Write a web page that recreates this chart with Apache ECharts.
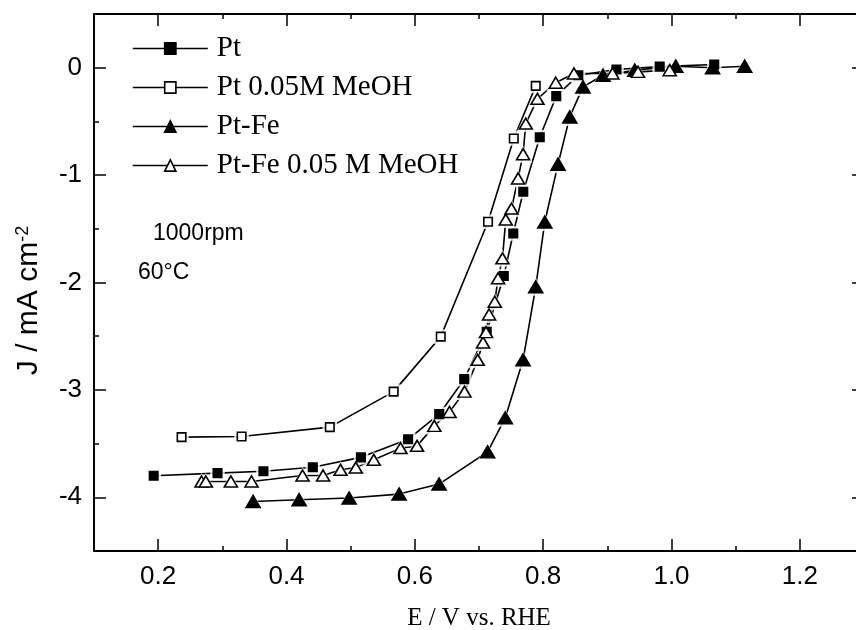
<!DOCTYPE html>
<html>
<head>
<meta charset="utf-8">
<script src="https://cdn.jsdelivr.net/npm/echarts@6/dist/echarts.min.js"></script>
<style>
  html, body { margin: 0; padding: 0; background: #fff; }
  #chart { width: 856px; height: 630px; }
</style>
</head>
<body>
<div id="chart"></div>
<script>
// Potential (V vs. RHE) and current density (mA cm^-2) for each polarisation curve
const ptE = [0.193, 0.2925, 0.364, 0.441, 0.516, 0.5895, 0.638, 0.677, 0.712, 0.7386, 0.7534, 0.769, 0.7947, 0.8204, 0.8547, 0.9142, 0.9816, 1.0666];
const ptJ = [-3.80, -3.775, -3.758, -3.72, -3.628, -3.46, -3.226, -2.90, -2.46, -1.94, -1.544, -1.155, -0.647, -0.265, -0.07, -0.017, 0.01, 0.03];

const ptMeohE = [0.2365, 0.330, 0.4675, 0.567, 0.6404, 0.7141, 0.7542, 0.7884];
const ptMeohJ = [-3.44, -3.434, -3.347, -3.016, -2.504, -1.434, -0.659, -0.169];

const ptFeE = [0.348, 0.4197, 0.4976, 0.5755, 0.6378, 0.7134, 0.741, 0.7687, 0.7884, 0.8025, 0.8232, 0.8414, 0.8621, 0.8933, 0.9427, 1.0066, 1.064, 1.114];
const ptFeJ = [-4.039, -4.023, -4.007, -3.97, -3.877, -3.577, -3.26, -2.72, -2.04, -1.437, -0.898, -0.458, -0.179, -0.07, -0.023, 0.014, 0.0, 0.014];

const ptFeMeohE = [0.2676, 0.2743, 0.3133, 0.3455, 0.425, 0.457, 0.4842, 0.508, 0.536, 0.5777, 0.6035, 0.6303, 0.654, 0.6774, 0.698, 0.7063, 0.711, 0.7157, 0.7246, 0.7297, 0.7366, 0.7417, 0.7506, 0.7609, 0.7687, 0.7729, 0.7911, 0.8196, 0.848, 0.908, 0.9478, 0.9972];
const ptFeMeohJ = [-3.853, -3.853, -3.853, -3.853, -3.797, -3.797, -3.744, -3.723, -3.651, -3.542, -3.521, -3.335, -3.205, -3.016, -2.72, -2.558, -2.462, -2.298, -2.179, -1.961, -1.775, -1.414, -1.312, -1.031, -0.805, -0.52, -0.29, -0.14, -0.054, -0.054, -0.039, -0.023];

// Axis ticks
const xMajor = [0.2, 0.4, 0.6, 0.8, 1.0, 1.2];
const xMinor = [0.1, 0.3, 0.5, 0.7, 0.9, 1.1, 1.3];
const yMajor = [0, -1, -2, -3, -4];
const yMinor = [0.5, -0.5, -1.5, -2.5, -3.5, -4.5];

const seriesNames = ['Pt', 'Pt 0.05M MeOH', 'Pt-Fe', 'Pt-Fe 0.05 M MeOH'];

const pairs = (xs, ys) => xs.map((x, i) => [x, ys[i]]);
const curves = [
  { name: seriesNames[0], data: pairs(ptE, ptJ), symbol: 'rect', size: 8.5, fill: '#000' },
  { name: seriesNames[1], data: pairs(ptMeohE, ptMeohJ), symbol: 'rect', size: 8.5, fill: '#fff' },
  { name: seriesNames[2], data: pairs(ptFeE, ptFeJ), symbol: 'triangle', size: [14, 12], fill: '#000' },
  { name: seriesNames[3], data: pairs(ptFeMeohE, ptFeMeohJ), symbol: 'triangle', size: [13, 11], fill: '#fff' }
];

const sansFont = 'Liberation Sans';
const serifFont = 'Liberation Serif';
const X_MIN = 0.1, X_MAX = 1.3, Y_MIN = -4.5, Y_MAX = 0.5;

function frameAxis(kind, position, ticks, len, withLine, withLabel, extra) {
  return Object.assign({
    type: 'value',
    position: position,
    min: kind === 'x' ? X_MIN : Y_MIN,
    max: kind === 'x' ? X_MAX : Y_MAX,
    axisLine: { show: withLine, onZero: false, lineStyle: { color: '#000', width: 2 } },
    axisTick: { show: true, inside: true, length: len, customValues: ticks, lineStyle: { color: '#000', width: 1.5 } },
    axisLabel: withLabel
      ? { show: true, customValues: ticks, color: '#000', fontFamily: sansFont, fontSize: 26,
          margin: kind === 'x' ? 13 : 12,
          formatter: v => kind === 'x' ? Number(v).toFixed(1) : String(Math.round(v)) }
      : { show: false },
    splitLine: { show: false }
  }, extra || {});
}

const series = [];
// connecting lines
curves.forEach(c => series.push({
  name: c.name + ' line', type: 'line', data: c.data, symbol: 'none',
  lineStyle: { color: '#000', width: 1.6 }, z: 2, silent: true, animation: false
}));
// white gap around each marker
curves.forEach(c => series.push({
  name: c.name + ' gap', type: 'scatter', data: c.data, symbol: c.symbol,
  symbolSize: Array.isArray(c.size) ? [c.size[0] + 6, c.size[1] + 6] : c.size + 6,
  itemStyle: { color: '#fff', borderWidth: 0 }, z: 3, silent: true, animation: false
}));
// markers
curves.forEach(c => series.push({
  name: c.name, type: 'line', data: c.data, symbol: c.symbol, symbolSize: c.size,
  showAllSymbol: true,
  lineStyle: { color: '#000', width: 1.5, opacity: 0 },
  itemStyle: { color: c.fill, borderColor: '#000', borderWidth: 1.6, opacity: 1 },
  z: 4, animation: false
}));

const chart = echarts.init(document.getElementById('chart'), null, { renderer: 'canvas' });
chart.setOption({
  backgroundColor: '#fff',
  animation: false,
  grid: { left: 94, top: 14, width: 770, height: 537, containLabel: false, outerBoundsMode: 'none' },
  xAxis: [
    frameAxis('x', 'bottom', xMajor, 12, true, true, {
      name: 'E / V vs. RHE', nameLocation: 'middle', nameGap: 55,
      nameTextStyle: { fontFamily: serifFont, fontSize: 25, color: '#000' }
    }),
    frameAxis('x', 'bottom', xMinor, 5, false, false),
    frameAxis('x', 'top', xMajor, 12, true, false),
    frameAxis('x', 'top', xMinor, 5, false, false)
  ],
  yAxis: [
    frameAxis('y', 'left', yMajor, 12, true, true, {
      name: 'J / mA cm{sup|-2}', nameLocation: 'middle', nameGap: 50, nameRotate: 90,
      nameTextStyle: { fontFamily: sansFont, fontSize: 30, color: '#000', padding: [0, 36, 0, 0],
        rich: { sup: { fontFamily: sansFont, fontSize: 18, color: '#000', verticalAlign: 'top', padding: [0, 0, 11, 0] } } }
    }),
    frameAxis('y', 'left', yMinor, 5, false, false),
    frameAxis('y', 'right', yMajor, 12, true, false),
    frameAxis('y', 'right', yMinor, 5, false, false)
  ],
  legend: {
    data: seriesNames,
    orient: 'vertical',
    left: 127, top: 29,
    itemWidth: 75, itemHeight: 14, itemGap: 10,
    lineStyle: { color: '#000', width: 1.6, opacity: 1 },
    itemStyle: { borderWidth: 1.6 },
    textStyle: { fontFamily: serifFont, fontSize: 29, color: '#000', padding: [0, 0, 0, 4] },
    selectedMode: false
  },
  graphic: [
    { type: 'text', left: 153, top: 222, style: { text: '1000rpm', fontFamily: sansFont, fontSize: 23, fill: '#000' } },
    { type: 'text', left: 138, top: 261, style: { text: '60°C', fontFamily: sansFont, fontSize: 23, fill: '#000' } }
  ],
  series: series
});
</script>
</body>
</html>
